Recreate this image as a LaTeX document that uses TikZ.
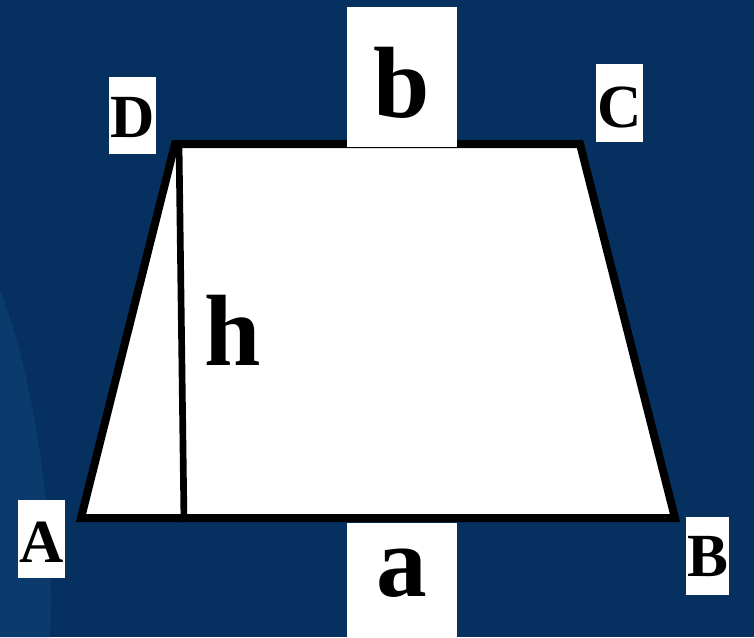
\documentclass[tikz,border=0pt]{standalone}
\usepackage{fontspec}
\setmainfont{Liberation Serif}
\usetikzlibrary{positioning}
\definecolor{slide}{HTML}{05305F}
\definecolor{slidelight}{HTML}{0B3B6C}
\tikzset{x=0.75pt, y=-0.75pt,
  edge/.style={line width=6pt, line join=miter},
  tag/.style={fill=white, inner sep=0pt, anchor=base, font=\bfseries\fontsize{46}{46}\selectfont},
  bigtag/.style={tag, font=\bfseries\fontsize{76}{76}\selectfont}}

\begin{document}
\begin{tikzpicture}
    \fill[slide] (0,0) rectangle (754,637);
    \useasboundingbox (0,0) rectangle (754,637);
    \fill[slidelight] (0,290) .. controls (35,380) and (55,520) .. (50,637) -- (0,637) -- cycle;
    \coordinate (A) at (81,518);
    \coordinate (B) at (675,518);
    \coordinate (C) at (580,144);
    \coordinate (D) at (175,144);
    \coordinate (foot) at (184,522);
    \filldraw[fill=white, edge] (A) -- (B) -- (C) -- (D) -- cycle;
    \draw[line width=5pt] (D) ++(4,0) -- (foot);
    \node[tag, text width=35.25pt, align=center, text height=45pt, text depth=12.75pt] (labD) at (132.5,137) {D};
    \node[tag, text width=35.25pt, align=center, text height=47.25pt, text depth=11.25pt] (labC) at (619.5,127) {C};
    \node[tag, text width=35.25pt, align=center, text height=46.5pt, text depth=12pt] (labA) at (41.5,562) {A};
    \node[tag, text width=32.25pt, align=center, text height=44.25pt, text depth=14.25pt] (labB) at (707.5,576) {B};
    \node[bigtag, text width=82.5pt, align=center, text height=82.5pt, text depth=22.5pt] (labb) at (402,117) {b};
    \node[bigtag, text width=82.5pt, align=center, text height=54.75pt, text depth=30.75pt] (laba) at (402,596) {a};
    \node[bigtag, fill=none] (labh) at (233,365) {h};
\end{tikzpicture}
\end{document}
